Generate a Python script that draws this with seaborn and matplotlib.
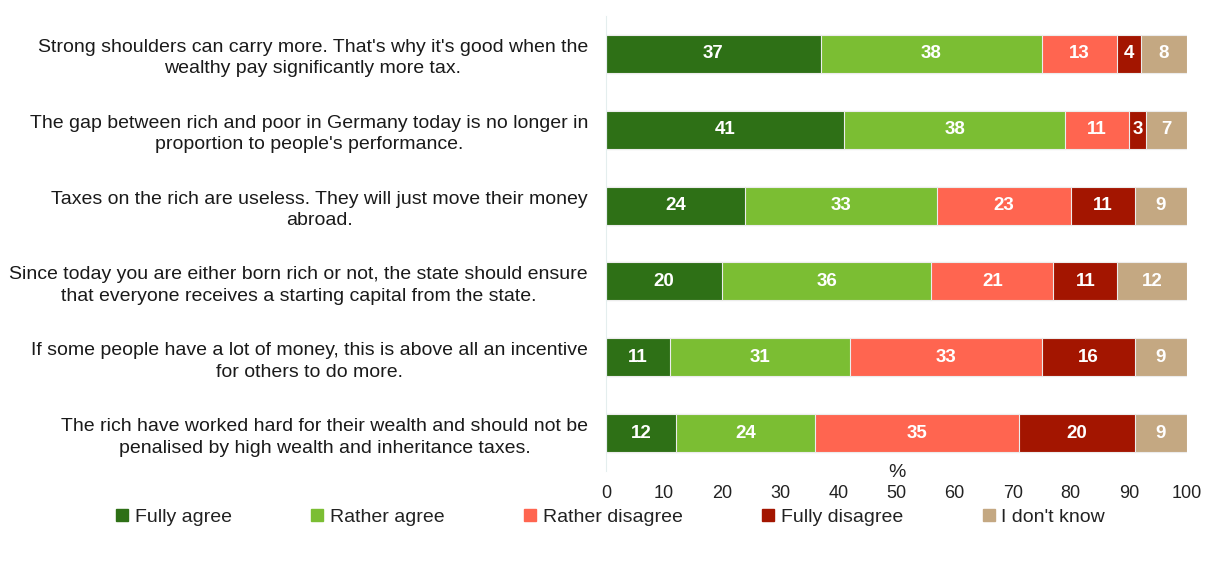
import matplotlib
matplotlib.use("Agg")
import matplotlib.pyplot as plt
from matplotlib.lines import Line2D
import numpy as np
import pandas as pd
import seaborn as sns

statements = [
    "Strong shoulders can carry more. That's why it's good when the\nwealthy pay significantly more tax.",
    "The gap between rich and poor in Germany today is no longer in\nproportion to people's performance.",
    "Taxes on the rich are useless. They will just move their money\nabroad.",
    "Since today you are either born rich or not, the state should ensure\nthat everyone receives a starting capital from the state.",
    "If some people have a lot of money, this is above all an incentive\nfor others to do more.",
    "The rich have worked hard for their wealth and should not be\npenalised by high wealth and inheritance taxes.",
]
answers = ["Fully agree", "Rather agree", "Rather disagree", "Fully disagree", "I don't know"]

fully_agree = [37, 41, 24, 20, 11, 12]
rather_agree = [38, 38, 33, 36, 31, 24]
rather_disagree = [13, 11, 23, 21, 33, 35]
fully_disagree = [4, 3, 11, 11, 16, 20]
dont_know = [8, 7, 9, 12, 9, 9]

colors = ["#2E7016", "#7BBE33", "#FF6550", "#A31500", "#C4A882"]
x_ticks = [0, 10, 20, 30, 40, 50, 60, 70, 80, 90, 100]

sns.set_theme(style="white")
plt.rcParams["font.family"] = ["Liberation Sans", "DejaVu Sans"]

series = [fully_agree, rather_agree, rather_disagree, fully_disagree, dont_know]
df = pd.DataFrame({a: s for a, s in zip(answers, series)})
df["statement"] = statements
cum = df[answers].cumsum(axis=1)

fig = plt.figure(figsize=(12.10, 5.65), dpi=100)
ax = fig.add_axes([0.5008, 0.166, 0.4802, 0.806])

# stacked bars: draw cumulative totals from the outermost segment inwards
for ans, col in reversed(list(zip(answers, colors))):
    sns.barplot(x=cum[ans], y=df["statement"], orient="h", color=col,
                width=0.5, edgecolor="#ececec", linewidth=0.8, ax=ax,
                saturation=1)

# value labels centred in each segment
for i in range(len(statements)):
    for ans in answers:
        v = df.loc[i, ans]
        mid = cum.loc[i, ans] - v / 2
        ax.text(mid, i, f"{v}", ha="center", va="center", color="white",
                fontsize=13.5, fontweight="bold")

ax.set_xlim(0, 100)
ax.set_ylim(len(statements) - 0.5, -0.5)
ax.set_xticks(x_ticks)
ax.set_xticklabels([str(t) for t in x_ticks])
ax.set_yticks(range(len(statements)))
ax.set_yticklabels(statements, linespacing=1.33, multialignment="center")
ax.set_xlabel("")
ax.set_ylabel("")
ax.tick_params(axis="x", length=0, pad=10, labelsize=13, colors="#222222")
ax.tick_params(axis="y", length=0, pad=13, labelsize=14.0, colors="#1a1a1a")

for s in ["top", "right", "bottom"]:
    ax.spines[s].set_visible(False)
ax.spines["left"].set_color("#e4eeee")
ax.spines["left"].set_linewidth(0.8)

ax.text(50, -0.002, "%", transform=ax.get_xaxis_transform(), ha="center",
        va="center", fontsize=14, color="#222222")

handles = [Line2D([0], [0], marker="s", linestyle="none", markersize=8,
                  markerfacecolor=c, markeredgecolor=c) for c in colors]
fig.legend(handles, answers, loc="center", bbox_to_anchor=(0.504, 0.085),
           ncol=5, frameon=False, fontsize=14, handletextpad=0.25,
           columnspacing=4.0, handlelength=0.8, labelcolor="#222222")

fig.savefig("out.png", dpi=100, facecolor="white")
